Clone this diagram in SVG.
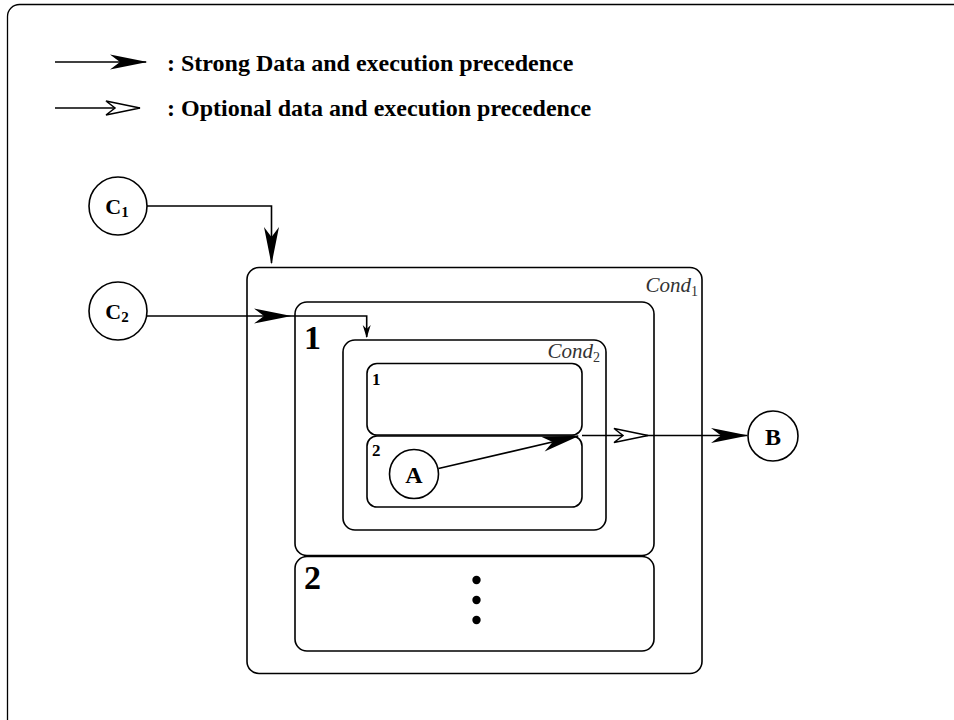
<svg xmlns="http://www.w3.org/2000/svg" width="954" height="720" viewBox="0 0 954 720">
<style>
.box{fill:none;stroke:#000;stroke-width:1.6}
.node{fill:#fff;stroke:#000;stroke-width:1.6}
.edge{fill:none;stroke:#000;stroke-width:1.6}
.lbl{font-family:"Liberation Serif","Times New Roman",serif;font-weight:bold;fill:#000}
.cond{font-family:"Liberation Serif","Times New Roman",serif;font-style:italic;fill:#333;font-size:21px}
</style>
<defs>
<marker id="strong" markerUnits="userSpaceOnUse" viewBox="-40 -10 44 20" markerWidth="44" markerHeight="20" refX="0" refY="0" orient="auto" overflow="visible">
<path d="M1.5,0 L-36,-7.5 L-26,0 L-36,7.5 Z" fill="#000"/>
</marker>
<marker id="open" markerUnits="userSpaceOnUse" viewBox="-40 -10 44 20" markerWidth="44" markerHeight="20" refX="0" refY="0" orient="auto" overflow="visible">
<path d="M0,0 L-34,-7 L-25,0 L-34,7 Z" fill="#fff" stroke="#000" stroke-width="1.5"/>
</marker>
<marker id="small" markerUnits="userSpaceOnUse" viewBox="-14 -6 16 12" markerWidth="16" markerHeight="12" refX="0" refY="0" orient="auto" overflow="visible">
<path d="M1,0 L-12,-4 L-8,0 L-12,4 Z" fill="#000"/>
</marker>
</defs>
<rect x="7.5" y="4.5" width="1000" height="800" rx="12" fill="#fff" stroke="#000" stroke-width="1.3"/>

<g id="legend">
<path class="edge" d="M55,62 H146" marker-end="url(#strong)"/>
<path class="edge" d="M55,108 H140" marker-end="url(#open)"/>
<text class="lbl" x="167" y="71" font-size="24">: Strong Data and execution precedence</text>
<text class="lbl" x="167" y="116" font-size="24">: Optional data and execution precedence</text>
</g>

<g id="cond1">
<rect class="box" x="247" y="267.5" width="455" height="406" rx="12"/>
<text class="cond" x="698" y="292" text-anchor="end">Cond<tspan font-size="14" font-style="normal" dy="4">1</tspan></text>
</g>
<g id="branch1">
<rect class="box" x="295" y="302" width="359" height="253.5" rx="12"/>
<text class="lbl" x="304" y="349" font-size="34">1</text>
</g>
<g id="branch2">
<rect class="box" x="295" y="556.5" width="359" height="94.5" rx="12"/>
<text class="lbl" x="304" y="589" font-size="34">2</text>
<circle cx="476.5" cy="580" r="4.2" fill="#000"/>
<circle cx="476.5" cy="600" r="4.2" fill="#000"/>
<circle cx="476.5" cy="620" r="4.2" fill="#000"/>
</g>
<g id="cond2">
<rect class="box" x="343" y="340" width="263" height="190" rx="12"/>
<text class="cond" x="600" y="358" text-anchor="end">Cond<tspan font-size="14" font-style="normal" dy="4">2</tspan></text>
</g>
<g id="inner1">
<rect class="box" x="367" y="363.5" width="215" height="71.5" rx="10"/>
<text class="lbl" x="372" y="385" font-size="17">1</text>
</g>
<g id="inner2">
<rect class="box" x="367" y="436" width="215" height="71" rx="10"/>
<text class="lbl" x="372" y="456" font-size="17">2</text>
</g>

<g id="connectors">
<path class="edge" d="M147,206 H271.5 V263" marker-end="url(#strong)"/>
<path class="edge" d="M146,316 H290" marker-end="url(#strong)"/>
<path class="edge" d="M290,316 H366.7 V337" marker-end="url(#small)"/>
<path class="edge" d="M438.5,468.5 L578,436" marker-end="url(#strong)"/>
<path class="edge" d="M582,435.5 H648" marker-end="url(#open)"/>
<path class="edge" d="M648,435.5 H747" marker-end="url(#strong)"/>
</g>

<g id="C1">
<circle class="node" cx="118" cy="206" r="29"/>
<text class="lbl" x="117" y="214" font-size="22" text-anchor="middle">C<tspan font-size="15" dy="3">1</tspan></text>
</g>
<g id="C2">
<circle class="node" cx="118" cy="311" r="29"/>
<text class="lbl" x="117" y="319" font-size="22" text-anchor="middle">C<tspan font-size="15" dy="3">2</tspan></text>
</g>
<g id="A">
<circle class="node" cx="414" cy="474" r="24.5"/>
<text class="lbl" x="414" y="483" font-size="24" text-anchor="middle">A</text>
</g>
<g id="B">
<circle class="node" cx="773" cy="436" r="25"/>
<text class="lbl" x="773" y="445" font-size="24" text-anchor="middle">B</text>
</g>
</svg>
